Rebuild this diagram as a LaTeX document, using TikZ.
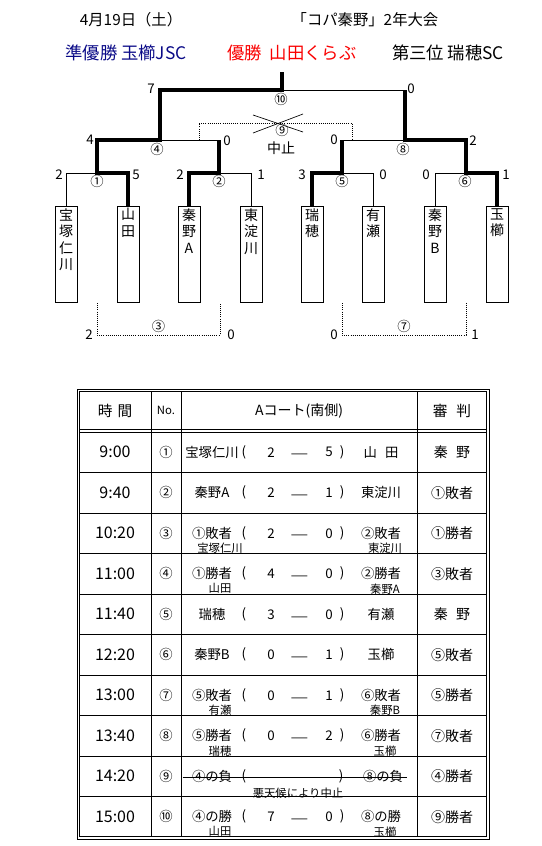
\documentclass[tikz,border=0pt]{standalone}
\usepackage{fontspec}
\setmainfont{Noto Sans CJK JP}
\usetikzlibrary{calc,positioning}
\definecolor{runnerup}{RGB}{10,10,135}
\definecolor{champ}{RGB}{250,0,0}

\tikzset{
  win/.style={line width=3pt},
  lose/.style={line width=0.6pt},
  dotline/.style={line width=0.6pt, densely dotted},
  team/.style={draw, line width=0.6pt, minimum width=16.5pt, minimum height=72pt, inner sep=0pt, anchor=north},
  teamname/.style={anchor=north, align=center, inner sep=0pt, font=\fontsize{10.5}{12.4}\selectfont},
  score/.style={inner sep=1.5pt, font=\fontsize{10}{12}\selectfont},
  scoreL/.style={score, anchor=east},
  scoreR/.style={score, anchor=west},
  rnd/.style={inner sep=0pt, font=\fontsize{10}{12}\selectfont},
  tline/.style={line width=0.6pt},
  cell/.style={inner sep=0pt, font=\fontsize{10}{12}\selectfont},
  refcell/.style={inner sep=0pt, font=\fontsize{10.5}{12}\selectfont},
  timecell/.style={inner sep=0pt, font=\fontsize{12}{14}\selectfont},
  subcell/.style={inner sep=0pt, font=\fontsize{8.5}{10}\selectfont},
  headline/.style={inner sep=0pt, font=\fontsize{13}{15}\selectfont},
}

\begin{document}
\begin{tikzpicture}[x=0.75pt, y=-0.75pt]
  \useasboundingbox (0,0) rectangle (542,846);

  % Title lines
  \node[inner sep=0pt, font=\fontsize{11.5}{14}\selectfont] (date) at (131,20) {4月19日（土）};
  \node[inner sep=0pt, font=\fontsize{11.5}{14}\selectfont] (title) at (365,20) {「コパ秦野」2年大会};
  \node[headline, text=runnerup] (second) at (126,53) {準優勝 玉櫛JSC};
  \node[headline, text=champ] (first) at (292,53) {優勝\ \ 山田くらぶ};
  \node[headline] (third) at (448,53) {第三位 瑞穂SC};

  % Team boxes
  \foreach \n/\x/\name in {1/66/宝\\塚\\仁\\川, 2/128/山\\田, 3/189/秦\\野\\A, 4/251/東\\淀\\川,
                           5/312/瑞\\穂, 6/373/有\\瀬, 7/435/秦\\野\\B, 8/497/玉\\櫛}{
    \node[team] (t\n) at (\x,206) {};
    \node[teamname] (n\n) at ([yshift=-1.5pt]t\n.north) {\name};
  }

  % Bracket junctions
  \coordinate (j1) at (97,173);
  \coordinate (j2) at (219,173);
  \coordinate (j5) at (342,173);
  \coordinate (j6) at (466,173);
  \coordinate (j4) at (160,140);
  \coordinate (j8) at (405,140);
  \coordinate (j10) at (282,90);
  \coordinate (top) at (282,72);

  % Losing branches
  \draw[lose] (t1.north) |- (j1);
  \draw[lose] (t4.north) |- (j2);
  \draw[lose] (j2 |- j4) -- (j4);
  \draw[lose] (t6.north) |- (j5);
  \draw[lose] (j5 |- j8) -- (j8);
  \draw[lose] (t7.north) |- (j6);
  \draw[lose] (j10) -- (j8 |- j10);
  % Winning branches
  \draw[win] (t2.north) |- (j1) |- (j4) |- (j10) -- (top);
  \draw[win] (t3.north) |- (j2) -- (j2 |- j4);
  \draw[win] (t5.north) |- (j5) -- (j5 |- j8);
  \draw[win] (t8.north) |- (j6) |- (j8) -- (j8 |- j10);

  % Scores
  \node[scoreL] (s1a) at ($(t1.north |- j1)+(-1,2)$) {2};
  \node[scoreR] (s1b) at ($(t2.north |- j1)+(2,2)$) {5};
  \node[scoreL] (s2a) at ($(t3.north |- j2)+(-3,2)$) {2};
  \node[scoreR] (s2b) at ($(t4.north |- j2)+(4,2)$) {1};
  \node[scoreL] (s5a) at ($(t5.north |- j5)+(-4,2)$) {3};
  \node[scoreR] (s5b) at ($(t6.north |- j5)+(4,2)$) {0};
  \node[scoreL] (s6a) at ($(t7.north |- j6)+(-3,2)$) {0};
  \node[scoreR] (s6b) at ($(t8.north |- j6)+(3,2)$) {1};
  \node[scoreL] (s4a) at ($(j1 |- j4)+(-1,0)$) {4};
  \node[scoreR] (s4b) at ($(j2 |- j4)+(2,1)$) {0};
  \node[scoreL] (s8a) at ($(j5 |- j8)+(-2,0)$) {0};
  \node[scoreR] (s8b) at ($(j6 |- j8)+(1,1)$) {2};
  \node[scoreL] (s10a) at ($(j4 |- j10)+(-3,-1)$) {7};
  \node[scoreR] (s10b) at ($(j8 |- j10)+(0,-1)$) {0};

  % Match numbers
  \node[rnd] (r1) at ($(j1)+(0,8)$) {①};
  \node[rnd] (r2) at ($(j2)+(0,8)$) {②};
  \node[rnd] (r5) at ($(j5)+(0,8)$) {⑤};
  \node[rnd] (r6) at ($(j6)+(-1,8)$) {⑥};
  \node[rnd] (r4) at ($(j4)+(-3,9)$) {④};
  \node[rnd] (r8) at ($(j8)+(-2,9)$) {⑧};
  \node[rnd] (r10) at ($(j10)+(-1,9)$) {⑩};

  % Cancelled match 9
  \coordinate (d9a) at (199,140);
  \coordinate (d9b) at (352,140);
  \draw[dotline] (d9a) -- ++(0,-17) -| (d9b);
  \node[rnd] (r9) at (282,130) {⑨};
  \coordinate (x9) at (278,124);
  \draw[line width=0.5pt] ($(x9)+(-25,-9)$) -- ($(x9)+(25,8)$);
  \draw[line width=0.5pt] ($(x9)+(-25,9)$) -- ($(x9)+(25,-10)$);
  \node[rnd, font=\fontsize{10.5}{12}\selectfont] (stop) at (281,148) {中止};

  % Lower rounds 3 and 7
  \coordinate (m3a) at (97,303);
  \coordinate (m3b) at (220,303);
  \draw[dotline] (m3a) -- ++(0,32) coordinate (c3a) -| (m3b);
  \node[rnd] (r3) at ($(c3a)!.5!(m3b |- c3a)+(0,-9)$) {③};
  \node[scoreL] (s3a) at ($(c3a)+(-2,0)$) {2};
  \node[scoreR] (s3b) at ($(m3b |- c3a)+(5,0)$) {0};
  \coordinate (m7a) at (342,303);
  \coordinate (m7b) at (466,303);
  \draw[dotline] (m7a) -- ++(0,32) coordinate (c7a) -| (m7b);
  \node[rnd] (r7) at ($(c7a)!.5!(m7b |- c7a)+(0,-9)$) {⑦};
  \node[scoreL] (s7a) at ($(c7a)+(-2,0)$) {0};
  \node[scoreR] (s7b) at ($(m7b |- c7a)+(3,0)$) {1};

  % Schedule table
  \draw[tline] (77,389) rectangle (489,839);
  \draw[tline] (79.5,391.5) rectangle (486.5,836.5);
  \draw[tline] (79.5,429.5) -- (486.5,429.5);
  \foreach \k in {0,...,9}
    \draw[tline] (79.5,{432+40.5*\k}) -- (486.5,{432+40.5*\k});
  \foreach \x in {151,181,417}
    \draw[tline] (\x,391.5) -- (\x,836.5);

  \node[inner sep=0pt, font=\fontsize{11}{13}\selectfont] (h1) at (115,410.5) {時\hspace{.35em}間};
  \node[inner sep=0pt, font=\fontsize{8.5}{10}\selectfont] (h2) at (166,410.5) {No.};
  \node[inner sep=0pt, font=\fontsize{10.5}{12}\selectfont] (h3) at (299,410.5) {Aコート(南側)};
  \node[inner sep=0pt, font=\fontsize{11}{13}\selectfont] (h4) at (452,410.5) {審\hspace{.6em}判};

  \foreach \k/\hr/\gm/\rf in {1/9:00/①/{秦\hspace{.6em}野}, 2/9:40/②/①敗者, 3/10:20/③/①勝者,
      4/11:00/④/③敗者, 5/11:40/⑤/{秦\hspace{.6em}野}, 6/12:20/⑥/⑤敗者, 7/13:00/⑦/⑤勝者,
      8/13:40/⑧/⑦敗者, 9/14:20/⑨/④勝者, 10/15:00/⑩/⑨勝者}{
    \node[timecell] (tm\k) at (115,{411.75+40.5*\k}) {\hr};
    \node[cell] (no\k) at (166,{411.75+40.5*\k}) {\gm};
    \node[refcell] (rf\k) at (452,{411.75+40.5*\k}) {\rf};
  }

  % Match column
  \foreach \k/\lft/\p/\q/\rgt in {1/宝塚仁川/2/5/{山\hspace{.6em}田}, 2/秦野A/2/1/東淀川,
      3/①敗者/2/0/②敗者, 4/①勝者/4/0/②勝者, 5/瑞穂/3/0/有瀬, 6/秦野B/0/1/玉櫛,
      7/⑤敗者/0/1/⑥敗者, 8/⑤勝者/0/2/⑥勝者, 10/④の勝/7/0/⑧の勝}{
    \node[cell] (ma\k) at (212,{411.75+40.5*\k}) {\lft};
    \node[cell] (po\k) at (244,{411.75+40.5*\k}) {(};
    \node[cell] (pa\k) at (271,{411.75+40.5*\k}) {\p};
    \node[cell, font=\fontsize{14}{14}\selectfont] (da\k) at (300,{417.75+40.5*\k}) {―};
    \node[cell] (pb\k) at (329,{411.75+40.5*\k}) {\q};
    \node[cell] (pc\k) at (342,{411.75+40.5*\k}) {)};
    \node[cell] (mb\k) at (381,{411.75+40.5*\k}) {\rgt};
  }
  \foreach \k/\lft/\rgt in {3/宝塚仁川/東淀川, 4/山田/秦野A, 7/有瀬/秦野B, 8/瑞穂/玉櫛, 10/山田/玉櫛}{
    \node[subcell] (sa\k) at (220,{426.75+40.5*\k}) {\lft};
    \node[subcell] (sb\k) at (385,{426.75+40.5*\k}) {\rgt};
  }

  % Row 9, called off
  \node[cell] (ma9) at (212,776.25) {④の負};
  \node[cell] (po9) at (244,776.25) {(};
  \node[cell] (pc9) at (341,776.25) {)};
  \node[cell] (mb9) at (383,776.25) {⑧の負};
  \draw[lose] ($(ma9.west)+(-9,1)$) -- ($(mb9.east)+(4,1)$);
  \node[subcell] (note9) at (298,793) {悪天候により中止};
\end{tikzpicture}
\end{document}
